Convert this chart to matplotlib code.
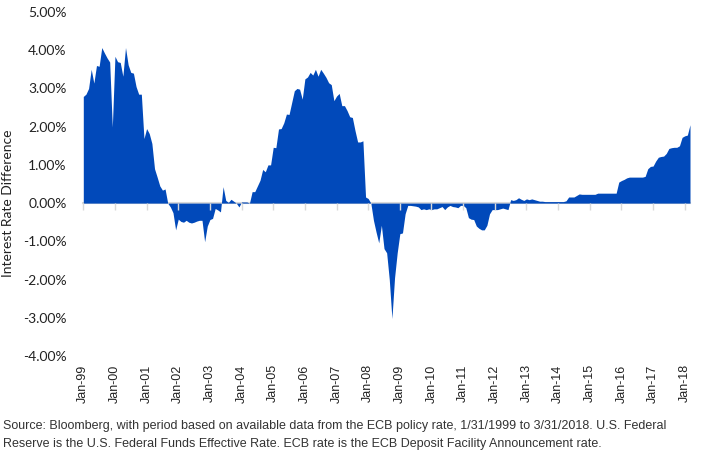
import matplotlib.pyplot as plt
import numpy as np

# US Fed funds effective minus ECB deposit rate, month-end, Jan-99 .. Mar-18 (in %)
d1999 = [2.79, 2.85, 3.0, 3.5, 3.14, 3.6, 3.58, 4.07, 3.93, 3.8, 3.69, 1.99]
d2000 = [3.84, 3.7, 3.68, 3.32, 4.07, 3.62, 3.42, 3.4, 3.05, 2.85, 2.85, 1.69]
d2001 = [1.95, 1.82, 1.56, 0.9, 0.68, 0.45, 0.34, 0.37, 0.0, -0.1, -0.25, -0.7]
d2002 = [-0.42, -0.48, -0.5, -0.45, -0.5, -0.52, -0.5, -0.47, -0.45, -0.45, -1.01, -0.6]
d2003 = [-0.43, -0.4, -0.14, -0.18, -0.23, 0.43, 0.07, 0.02, 0.1, 0.05, 0.0, -0.1]
d2004 = [0.03, 0.03, 0.03, 0.0, 0.3, 0.3, 0.45, 0.6, 0.88, 0.82, 1.0, 1.0]
d2005 = [1.46, 1.45, 1.94, 1.95, 2.1, 2.33, 2.32, 2.63, 2.94, 3.0, 2.98, 2.72]
d2006 = [3.25, 3.3, 3.42, 3.35, 3.5, 3.32, 3.5, 3.4, 3.29, 3.15, 3.1, 2.68]
d2007 = [2.8, 2.87, 2.55, 2.55, 2.42, 2.26, 2.24, 1.9, 1.6, 1.6, 1.63, 0.16]
d2008 = [0.12, 0.0, -0.45, -0.76, -1.04, -0.58, -1.19, -1.3, -2.0, -3.02, -1.95, -1.3]
d2009 = [-0.8, -0.78, -0.28, -0.06, -0.06, -0.07, -0.08, -0.1, -0.17, -0.15, -0.17, -0.15]
d2010 = [-0.17, -0.15, -0.15, -0.12, -0.09, -0.17, -0.1, -0.06, -0.09, -0.1, -0.12, -0.06]
d2011 = [-0.06, -0.12, -0.38, -0.42, -0.43, -0.6, -0.66, -0.7, -0.7, -0.58, -0.28, -0.17]
d2012 = [-0.17, -0.17, -0.15, -0.13, -0.15, -0.17, 0.09, 0.07, 0.09, 0.14, 0.1, 0.07]
d2013 = [0.11, 0.09, 0.11, 0.09, 0.07, 0.05, 0.05, 0.04, 0.04, 0.04, 0.04, 0.04]
d2014 = [0.04, 0.04, 0.04, 0.06, 0.16, 0.16, 0.16, 0.2, 0.24, 0.23, 0.23, 0.23]
d2015 = [0.23, 0.23, 0.23, 0.26, 0.26, 0.26, 0.26, 0.26, 0.26, 0.26, 0.26, 0.55]
d2016 = [0.59, 0.62, 0.66, 0.68, 0.68, 0.68, 0.68, 0.68, 0.68, 0.7, 0.9, 0.96]
d2017 = [0.97, 1.1, 1.2, 1.22, 1.23, 1.3, 1.43, 1.45, 1.46, 1.46, 1.5, 1.72]
d2018 = [1.76, 1.78, 2.05]

years = [d1999, d2000, d2001, d2002, d2003, d2004, d2005, d2006, d2007, d2008,
         d2009, d2010, d2011, d2012, d2013, d2014, d2015, d2016, d2017, d2018]
diff = np.concatenate([np.array(y) for y in years])

tick_labels = ["Jan-99", "Jan-00", "Jan-01", "Jan-02", "Jan-03", "Jan-04", "Jan-05",
               "Jan-06", "Jan-07", "Jan-08", "Jan-09", "Jan-10", "Jan-11", "Jan-12",
               "Jan-13", "Jan-14", "Jan-15", "Jan-16", "Jan-17", "Jan-18"]
y_ticks = [-4, -3, -2, -1, 0, 1, 2, 3, 4, 5]

source = ("Source: Bloomberg, with period based on available data from the ECB policy rate, "
          "1/31/1999 to 3/31/2018. U.S. Federal\nReserve is the U.S. Federal Funds Effective "
          "Rate. ECB rate is the ECB Deposit Facility Announcement rate.")

fill_color = "#0149BA"
grey = "#d9d9d9"

fig = plt.figure(figsize=(7.05, 4.59), dpi=100)
ax = fig.add_axes([83.3 / 705, 103 / 459, 606.7 / 705, 344 / 459])

x = np.arange(len(diff))
ax.fill_between(x, diff, 0, color=fill_color, lw=0)
ax.set_xlim(0, len(diff) - 1)
ax.set_ylim(-4, 5)

for s in ["left", "right", "top"]:
    ax.spines[s].set_visible(False)
ax.spines["bottom"].set_position(("data", 0))
ax.spines["bottom"].set_color(grey)
ax.spines["bottom"].set_linewidth(1.5)
ax.spines["bottom"].set_zorder(0)

tick_pos = [12 * i for i in range(len(tick_labels))]
ax.set_xticks(tick_pos)
ax.tick_params(axis="x", direction="out", length=5, width=1, color=grey, labelbottom=False)

ax.set_yticks(y_ticks)
ax.set_yticklabels([f"{v:.2f}%" for v in y_ticks], family="Lato", fontsize=10, color="#222222")
ax.tick_params(axis="y", length=0, pad=12)

sec = ax.secondary_xaxis("bottom")
sec.set_xticks(tick_pos)
sec.set_xticklabels(tick_labels, rotation=90, family="Liberation Sans", fontsize=9, color="#222222")
sec.tick_params(length=0, pad=6)
sec.spines["bottom"].set_visible(False)

fig.text(0.012, 0.557, "Interest Rate Difference", rotation=90, ha="center", va="center",
         family="Lato", fontsize=10, color="#222222")

fig.text(0.004, 0.086, source, ha="left", va="top", family="Liberation Sans",
         fontsize=9, color="#333333", linespacing=1.75)

fig.savefig("out.png", dpi=100)
